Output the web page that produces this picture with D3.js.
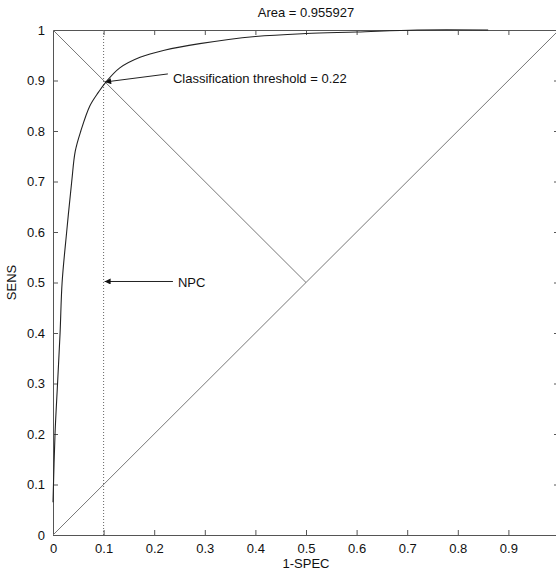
<!DOCTYPE html>
<html>
<head>
<meta charset="utf-8">
<script src="https://cdn.jsdelivr.net/npm/d3@7"></script>
<style>
  body { margin: 0; background: #fff; }
  text { font-family: "Liberation Sans", Arial, sans-serif; fill: #111; }
</style>
</head>
<body>
<div id="roc"></div>
<script>
// ROC curve
var fpr = [0, 0.004, 0.009, 0.014, 0.018, 0.027, 0.037, 0.044, 0.055, 0.073, 0.09, 0.103, 0.132, 0.172, 0.22, 0.29, 0.4, 0.5, 0.6, 0.72, 0.86];
var tpr = [0.065, 0.2, 0.3, 0.4, 0.5, 0.6, 0.7, 0.76, 0.8, 0.85, 0.877, 0.895, 0.925, 0.946, 0.96, 0.973, 0.987, 0.993, 0.996, 1, 1];

var xTicks = [0, 0.1, 0.2, 0.3, 0.4, 0.5, 0.6, 0.7, 0.8, 0.9, 1];
var yTicks = [0, 0.1, 0.2, 0.3, 0.4, 0.5, 0.6, 0.7, 0.8, 0.9, 1];

var chance = [[0, 0], [1, 1]];
var antiDiag = [[0, 1], [0.5, 0.5]];
var npcX = 0.1;

var titleText = "Area = 0.955927";
var xLabel = "1-SPEC";
var yLabel = "SENS";

// annotations: text position and arrow from -> to
var notes = [
  {label: "Classification threshold = 0.22", tx: 0.237, ty: 0.905, from: [0.227, 0.913], to: [0.103, 0.897]},
  {label: "NPC", tx: 0.247, ty: 0.5, from: [0.237, 0.502], to: [0.102, 0.502]}
];

// dimensions
var margin = {top: 30, right: -3, bottom: 38, left: 53},
    width = 506,
    height = 505;

var svg = d3.select("#roc")
  .append("svg")
    .attr("width", 556)
    .attr("height", 573)
  .append("g")
    .attr("transform", "translate(" + margin.left + "," + margin.top + ")");

var x = d3.scaleLinear().domain([0, 1]).range([0, width]);
var y = d3.scaleLinear().domain([0, 1]).range([height, 0]);

var fmt = function(d) { return d3.format("~g")(d); };

// axes (ticks point inward, like matlab)
var axisColor = "#555";
function styleAxis(g) {
  g.select(".domain").attr("stroke", axisColor);
  g.selectAll(".tick line").attr("stroke", axisColor);
  g.selectAll(".tick text").attr("font-size", 13);
}

svg.append("g")
    .attr("transform", "translate(0," + height + ")")
    .call(d3.axisBottom(x).tickValues(xTicks).tickFormat(fmt).tickSizeInner(-5).tickSizeOuter(0).tickPadding(9))
    .call(styleAxis);

svg.append("g")
    .call(d3.axisLeft(y).tickValues(yTicks).tickFormat(fmt).tickSizeInner(-5).tickSizeOuter(0).tickPadding(8))
    .call(styleAxis);

svg.append("g")
    .call(d3.axisTop(x).tickValues(xTicks).tickFormat("").tickSizeInner(-5).tickSizeOuter(0))
    .call(styleAxis);

svg.append("g")
    .attr("transform", "translate(" + width + ",0)")
    .call(d3.axisRight(y).tickValues(yTicks).tickFormat("").tickSizeInner(-5).tickSizeOuter(0))
    .call(styleAxis);

var line = d3.line()
  .x(function(d) { return x(d[0]); })
  .y(function(d) { return y(d[1]); });

// reference lines
svg.append("path")
    .attr("d", line(chance))
    .attr("fill", "none")
    .attr("stroke", "#777")
    .attr("stroke-width", 1);

svg.append("path")
    .attr("d", line(antiDiag))
    .attr("fill", "none")
    .attr("stroke", "#777")
    .attr("stroke-width", 1);

svg.append("path")
    .attr("d", line([[npcX, 0], [npcX, 1]]))
    .attr("fill", "none")
    .attr("stroke", "#666")
    .attr("stroke-width", 1)
    .attr("stroke-dasharray", "1,2");

// the ROC curve
svg.append("path")
    .attr("d", line.curve(d3.curveCatmullRom.alpha(0.5))(d3.zip(fpr, tpr)))
    .attr("fill", "none")
    .attr("stroke", "#222")
    .attr("stroke-width", 1.1);

// arrowhead
svg.append("defs").append("marker")
    .attr("id", "head")
    .attr("viewBox", "0 0 10 10")
    .attr("refX", 10)
    .attr("refY", 5)
    .attr("markerWidth", 9)
    .attr("markerHeight", 6)
    .attr("markerUnits", "userSpaceOnUse")
    .attr("orient", "auto")
  .append("path")
    .attr("d", "M0,0L10,5L0,10Z")
    .attr("fill", "#111");

notes.forEach(function(n) {
  svg.append("line")
      .attr("x1", x(n.from[0])).attr("y1", y(n.from[1]))
      .attr("x2", x(n.to[0])).attr("y2", y(n.to[1]))
      .attr("stroke", "#222")
      .attr("stroke-width", 1)
      .attr("marker-end", "url(#head)");
  svg.append("text")
      .attr("x", x(n.tx))
      .attr("y", y(n.ty))
      .attr("dy", "0.35em")
      .attr("font-size", 13)
      .text(n.label);
});

// titles
svg.append("text")
    .attr("x", width / 2)
    .attr("y", -13)
    .attr("text-anchor", "middle")
    .attr("font-size", 13)
    .text(titleText);

svg.append("text")
    .attr("x", width / 2)
    .attr("y", height + 33)
    .attr("text-anchor", "middle")
    .attr("font-size", 13)
    .text(xLabel);

svg.append("text")
    .attr("transform", "translate(" + (-37) + "," + (height / 2) + ") rotate(-90)")
    .attr("text-anchor", "middle")
    .attr("font-size", 13)
    .text(yLabel);
</script>
</body>
</html>
